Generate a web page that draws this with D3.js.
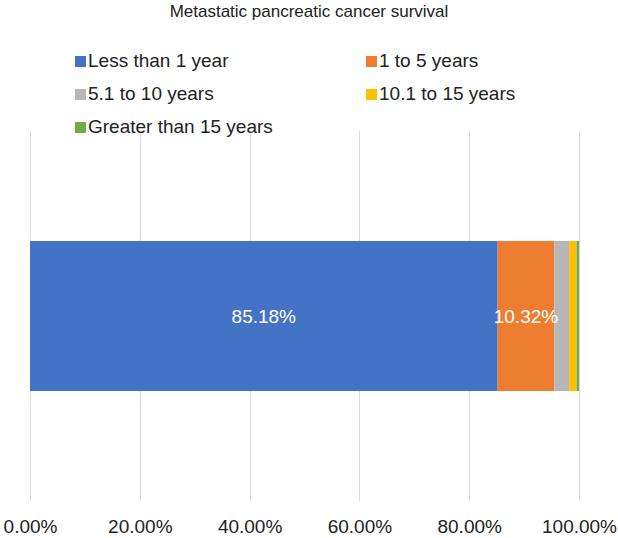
<!DOCTYPE html>
<html>
<head>
<meta charset="utf-8">
<script src="https://cdn.jsdelivr.net/npm/d3@7"></script>
<style>
  body { margin: 0; background: #fff; }
  text { font-family: "Liberation Sans", Arial, Helvetica, sans-serif; }
</style>
</head>
<body>
<svg id="chart" width="618" height="538"></svg>
<script>
const title = "Metastatic pancreatic cancer survival";
const categories = ["Metastatic"];
const seriesNames = ["Less than 1 year", "1 to 5 years", "5.1 to 10 years", "10.1 to 15 years", "Greater than 15 years"];
const seriesValues = [85.18, 10.32, 2.7, 1.35, 0.45];
const seriesLabels = ["85.18%", "10.32%", null, null, null];
const seriesColors = ["#4472C4", "#ED7D31", "#B7B7B7", "#FFC000", "#70AD47"];
const tickValues = [0, 20, 40, 60, 80, 100];
const tickLabels = ["0.00%", "20.00%", "40.00%", "60.00%", "80.00%", "100.00%"];

const svg = d3.select("#chart");
const plot = { left: 30, right: 579, top: 131, bottom: 501 };

const x = d3.scaleLinear().domain([0, 100]).range([plot.left, plot.right]);
const y = d3.scaleBand().domain(categories).range([plot.top, plot.bottom]).paddingInner(0).paddingOuter(0.733);

// Title
svg.append("text")
  .attr("x", 309).attr("y", 17)
  .attr("text-anchor", "middle")
  .attr("font-size", 17)
  .attr("fill", "#222")
  .text(title);

// Gridlines
svg.append("g").selectAll("line").data(tickValues).join("line")
  .attr("x1", d => Math.round(x(d)) + 0.5).attr("x2", d => Math.round(x(d)) + 0.5)
  .attr("y1", plot.top).attr("y2", plot.bottom)
  .attr("stroke", "#DCDCDC").attr("stroke-width", 1);

// Axis labels
const axis = d3.axisBottom(x).tickValues(tickValues).tickSize(0)
  .tickFormat((d, i) => tickLabels[i]);
const gAxis = svg.append("g").attr("transform", `translate(0,${plot.bottom})`).call(axis);
gAxis.select(".domain").remove();
gAxis.selectAll("text")
  .attr("font-family", "Liberation Sans, Arial, sans-serif")
  .attr("font-size", 19).attr("fill", "#222")
  .attr("dy", 0).attr("y", 32);

// Stacked bar
let cum = 0;
const stack = seriesValues.map((v, i) => {
  const s = { name: seriesNames[i], x0: cum, x1: cum + v, color: seriesColors[i], label: seriesLabels[i] };
  cum += v;
  return s;
});

const band = y(categories[0]);
svg.append("g").selectAll("rect").data(stack).join("rect")
  .attr("x", d => x(d.x0))
  .attr("width", d => x(d.x1) - x(d.x0))
  .attr("y", band)
  .attr("height", y.bandwidth())
  .attr("fill", d => d.color);

svg.append("g").selectAll("text").data(stack.filter(d => d.label)).join("text")
  .attr("x", d => (x(d.x0) + x(d.x1)) / 2)
  .attr("y", band + y.bandwidth() / 2 + 7)
  .attr("text-anchor", "middle")
  .attr("font-size", 19)
  .attr("fill", "#fff")
  .text(d => d.label);

// Legend
const legendPos = [
  { x: 75, y: 56 }, { x: 366, y: 56 },
  { x: 75, y: 89 }, { x: 366, y: 89 },
  { x: 75, y: 122 }
];
const lg = svg.append("g").selectAll("g").data(seriesNames).join("g")
  .attr("transform", (d, i) => `translate(${legendPos[i].x},${legendPos[i].y})`);
lg.append("rect").attr("width", 11).attr("height", 11).attr("fill", (d, i) => seriesColors[i]);
lg.append("text").attr("x", 13).attr("y", 11)
  .attr("font-size", 19).attr("fill", "#222")
  .text(d => d);
</script>
</body>
</html>
